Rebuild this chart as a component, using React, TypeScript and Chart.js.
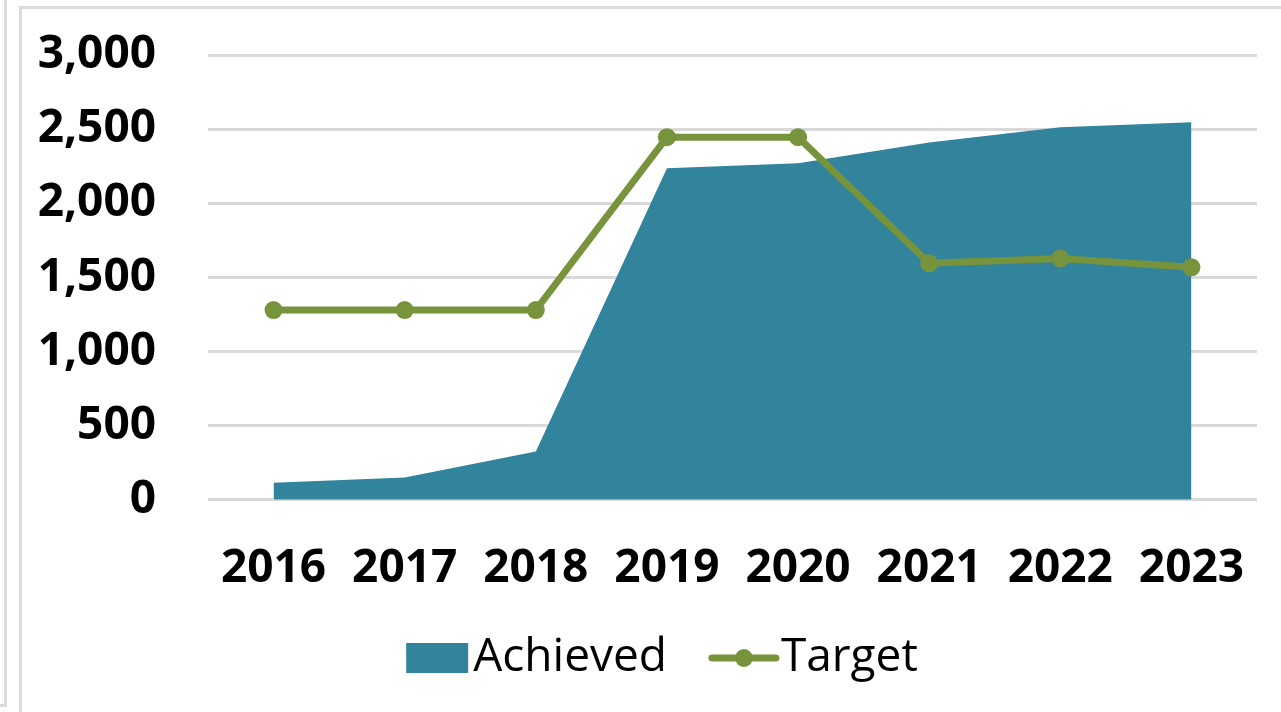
import React, { useEffect, useRef } from "react";
import { Chart, registerables } from "chart.js";

Chart.register(...registerables);

const years = ["2016", "2017", "2018", "2019", "2020", "2021", "2022", "2023"];
const achieved = [115, 150, 325, 2236, 2270, 2410, 2513, 2547];
const target = [1280, 1280, 1280, 2446, 2446, 1595, 1628, 1568];
const yMin = 0;
const yMax = 3000;
const yStep = 500;

const TEAL = "#31849B";
const GREEN = "#77933C";
const GRID = "#d9d9d9";
const FONT = "'Open Sans', 'DejaVu Sans', sans-serif";

const legendPlugin = {
  id: "customLegend",
  afterDraw(chart: any) {
    const ctx = chart.ctx as CanvasRenderingContext2D;
    const ds = chart.data.datasets;
    const cy = 658;
    const fontSize = 46;
    ctx.save();
    ctx.font = `normal ${fontSize}px ${FONT}`;
    ctx.textBaseline = "middle";
    ctx.fillStyle = "#000";
    const boxW = 62;
    const boxH = 30;
    const lineW = 70;
    const items = ds.map((d: any, i: number) => {
      const tw = ctx.measureText(d.label).width;
      const symW = i === 0 ? boxW : lineW;
      const gap = i === 0 ? 5 : 2;
      return { d, tw, symW, gap, w: symW + gap + tw };
    });
    const between = 42;
    const total = items.reduce((a: number, it: any) => a + it.w, 0) + between * (items.length - 1);
    let x = 662 - total / 2;
    items.forEach((it: any, i: number) => {
      if (i === 0) {
        ctx.fillStyle = it.d.backgroundColor;
        ctx.fillRect(x, cy - boxH / 2, boxW, boxH);
      } else {
        ctx.strokeStyle = it.d.borderColor;
        ctx.lineWidth = it.d.borderWidth;
        ctx.lineCap = "round";
        ctx.beginPath();
        ctx.moveTo(x + 3, cy);
        ctx.lineTo(x + lineW - 3, cy);
        ctx.stroke();
        ctx.fillStyle = it.d.pointBackgroundColor;
        ctx.beginPath();
        ctx.arc(x + lineW / 2, cy, it.d.pointRadius, 0, Math.PI * 2);
        ctx.fill();
      }
      ctx.fillStyle = "#000";
      ctx.fillText(it.d.label, x + it.symW + it.gap, cy);
      x += it.w + between;
    });
    ctx.restore();
  },
};

export default function App() {
  const ref = useRef<HTMLCanvasElement | null>(null);

  useEffect(() => {
    if (!ref.current) return;
    const chart = new Chart(ref.current, {
      type: "line",
      data: {
        labels: years,
        datasets: [
          {
            label: "Achieved",
            data: achieved,
            backgroundColor: TEAL,
            borderColor: TEAL,
            borderWidth: 0,
            fill: "origin",
            pointRadius: 0,
            tension: 0,
            order: 2,
          },
          {
            label: "Target",
            data: target,
            borderColor: GREEN,
            backgroundColor: GREEN,
            pointBackgroundColor: GREEN,
            pointBorderColor: GREEN,
            borderWidth: 7,
            pointRadius: 9,
            pointBorderWidth: 0,
            fill: false,
            tension: 0,
            order: 1,
          },
        ],
      },
      options: {
        responsive: false,
        animation: false,
        layout: { padding: { left: 38, right: 24, top: 55, bottom: 83 } },
        scales: {
          x: {
            offset: true,
            grid: { display: false },
            border: { display: false },
            ticks: {
              color: "#000",
              padding: 33,
              maxRotation: 0,
              font: { family: FONT, size: 46, weight: "bold" },
            },
          },
          y: {
            min: yMin,
            max: yMax,
            grid: { color: GRID, lineWidth: 3, drawTicks: false },
            border: { display: false },
            ticks: {
              stepSize: yStep,
              color: "#000",
              padding: 52,
              font: { family: FONT, size: 46, weight: "bold" },
              callback: (v: any) => Number(v).toLocaleString("en-US"),
            },
            afterFit: (s: any) => {
              s.width = 170;
              s.paddingTop = 0;
              s.paddingBottom = 0;
            },
          },
        },
        plugins: {
          legend: { display: false },
          tooltip: { enabled: false },
        },
      },
      plugins: [legendPlugin],
    });
    return () => chart.destroy();
  }, []);

  return (
    <div style={{ position: "fixed", left: 0, top: 0, width: 1281, height: 712, overflow: "hidden", background: "#fff" }}>
      <div
        style={{
          position: "absolute",
          left: -100,
          top: -10,
          width: 104,
          height: 714,
          borderRight: "3px solid #dcdcdc",
          borderBottom: "3px solid #dcdcdc",
        }}
      />
      <div
        style={{
          position: "absolute",
          left: 19,
          top: 6,
          width: 2000,
          height: 2000,
          borderLeft: "3px solid #dcdcdc",
          borderTop: "3px solid #dcdcdc",
        }}
      />
      <canvas ref={ref} width={1281} height={712} style={{ position: "absolute", left: 0, top: 0 }} />
    </div>
  );
}
